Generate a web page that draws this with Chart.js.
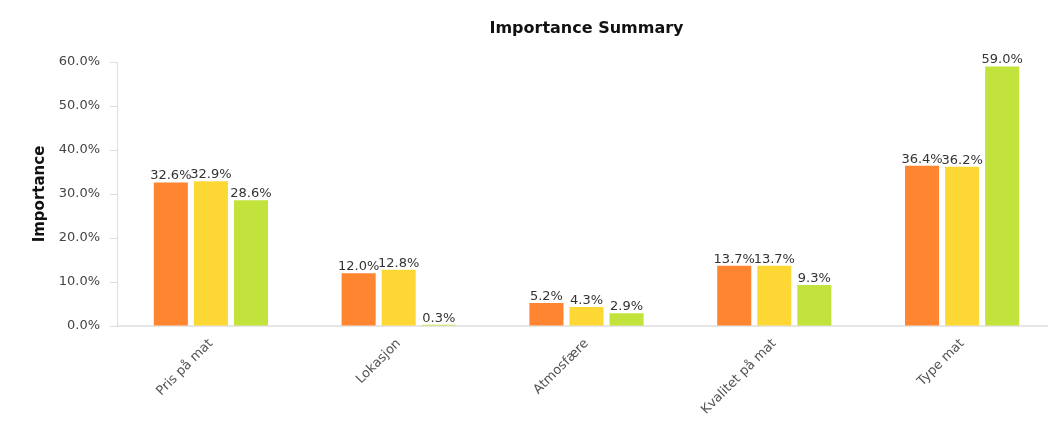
<!DOCTYPE html>
<html>
<head>
<meta charset="utf-8">
<script src="https://cdn.jsdelivr.net/npm/chart.js@4.4.1/dist/chart.umd.min.js"></script>
<style>
  html, body { margin: 0; padding: 0; background: #fff; overflow: hidden; }
  #wrap { width: 1060px; height: 437px; }
</style>
</head>
<body>
<div id="wrap"><canvas id="myChart" width="1060" height="437"></canvas></div>
<script>
// categories and the three series (importance in %)
const categories = ["Pris på mat", "Lokasjon", "Atmosfære", "Kvalitet på mat", "Type mat"];
const series1 = [32.6, 12.0, 5.2, 13.7, 36.4];
const series2 = [32.9, 12.8, 4.3, 13.7, 36.2];
const series3 = [28.6, 0.3, 2.9, 9.3, 59.0];
const seriesColors = ['#FF8531', '#FDD835', '#C2E33B'];

const FONT = "'DejaVu Sans', Verdana, sans-serif";

// value labels on top of every bar
const barLabels = {
    id: 'barLabels',
    afterDatasetsDraw(chart) {
        const ctx = chart.ctx;
        ctx.save();
        ctx.font = '13px ' + FONT;
        ctx.fillStyle = '#333';
        ctx.textAlign = 'center';
        ctx.textBaseline = 'bottom';
        chart.data.datasets.forEach((ds, i) => {
            chart.getDatasetMeta(i).data.forEach((bar, j) => {
                ctx.fillText(ds.data[j].toFixed(1) + '%', bar.x, bar.y);
            });
        });
        ctx.restore();
    }
};

// title centred over the plot area
const plotTitle = {
    id: 'plotTitle',
    afterDraw(chart) {
        const ctx = chart.ctx;
        const a = chart.chartArea;
        ctx.save();
        ctx.font = 'bold 16px ' + FONT;
        ctx.fillStyle = '#111';
        ctx.textAlign = 'center';
        ctx.textBaseline = 'middle';
        ctx.fillText('Importance Summary', (a.left + a.right) / 2, 29);
        ctx.restore();
    }
};

let ctx = document.getElementById("myChart").getContext('2d');

let myChart = new Chart(ctx, {
    type: 'bar',
    data: {
        labels: categories,
        datasets: [
            { label: 'Series 1', data: series1, backgroundColor: seriesColors[0] },
            { label: 'Series 2', data: series2, backgroundColor: seriesColors[1] },
            { label: 'Series 3', data: series3, backgroundColor: seriesColors[2] }
        ]
    },
    plugins: [barLabels, plotTitle],
    options: {
        responsive: false,
        animation: false,
        categoryPercentage: 0.64,
        barPercentage: 0.85,
        layout: { padding: { top: 62, right: 4, left: 0, bottom: 0 } },
        plugins: {
            legend: { display: false },
            tooltip: { enabled: false }
        },
        scales: {
            x: {
                grid: { display: false },
                border: { color: '#e6e6e6', width: 2 },
                ticks: {
                    color: '#555',
                    font: { family: FONT, size: 13 },
                    minRotation: 45,
                    maxRotation: 45,
                    padding: 2
                },
                afterFit(scale) { scale.height = 111; }
            },
            y: {
                min: 0,
                max: 60,
                grid: { drawOnChartArea: false, drawTicks: true, tickLength: 7, color: '#ddd' },
                border: { color: '#ddd' },
                ticks: {
                    stepSize: 10,
                    color: '#444',
                    padding: 10,
                    font: { family: FONT, size: 13 },
                    callback: v => v.toFixed(1) + '%'
                },
                title: {
                    display: true,
                    text: 'Importance',
                    color: '#111',
                    font: { family: FONT, size: 15, weight: 'bold' },
                    padding: { top: 31, bottom: 0 }
                },
                afterFit(scale) { scale.width = 117; }
            }
        }
    }
});
</script>
</body>
</html>
